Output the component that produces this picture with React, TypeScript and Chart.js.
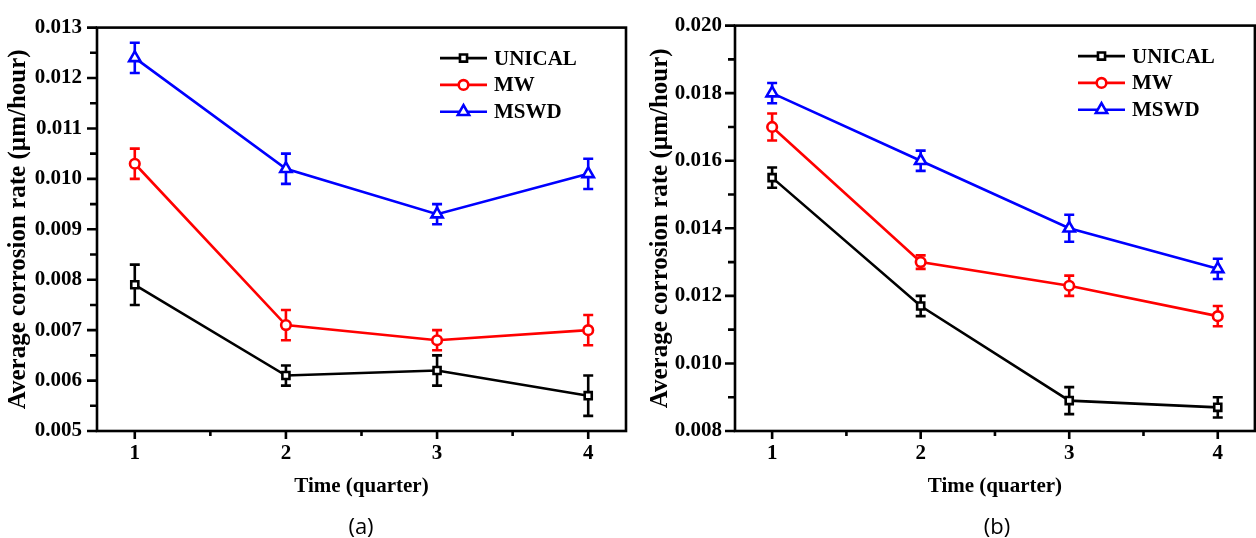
import React, { useEffect, useRef } from "react";
import { Chart, registerables } from "chart.js";

Chart.register(...registerables);

const SERIF = '"Liberation Serif", "Times New Roman", serif';

// ---------- data ----------
const quarters = [1, 2, 3, 4];
const xTickValues = [1, 2, 3, 4];
const seriesNames = ["UNICAL", "MW", "MSWD"];
const seriesColors = ["#000000", "#ff0000", "#0000ff"];
const seriesMarkers = ["rect", "circle", "triangle"];

// panel (a)
const aYTickValues = [0.005, 0.006, 0.007, 0.008, 0.009, 0.01, 0.011, 0.012, 0.013];
const aUnical = [0.0079, 0.0061, 0.0062, 0.0057];
const aUnicalErr = [0.0004, 0.0002, 0.0003, 0.0004];
const aMw = [0.0103, 0.0071, 0.0068, 0.007];
const aMwErr = [0.0003, 0.0003, 0.0002, 0.0003];
const aMswd = [0.0124, 0.0102, 0.0093, 0.0101];
const aMswdErr = [0.0003, 0.0003, 0.0002, 0.0003];

// panel (b)
const bYTickValues = [0.008, 0.01, 0.012, 0.014, 0.016, 0.018, 0.02];
const bUnical = [0.0155, 0.0117, 0.0089, 0.0087];
const bUnicalErr = [0.0003, 0.0003, 0.0004, 0.0003];
const bMw = [0.017, 0.013, 0.0123, 0.0114];
const bMwErr = [0.0004, 0.0002, 0.0003, 0.0003];
const bMswd = [0.018, 0.016, 0.014, 0.0128];
const bMswdErr = [0.0003, 0.0003, 0.0004, 0.0003];

const yTitle = "Average corrosion rate (\u00b5m/hour)";
const xTitle = "Time (quarter)";

type PanelProps = {
  canvasLeft: number;
  canvasWidth: number;
  axisWidth: number;
  tickPad: number;
  titlePad: number;
  padRight: number;
  yMin: number;
  yMax: number;
  yTicks: number[];
  values: number[][];
  errors: number[][];
  caption: string;
  captionCenter: number;
};

function markerSize(style: string) {
  if (style === "rect") return 5;
  if (style === "circle") return 4.8;
  return 6.5;
}

function drawMarker(ctx: CanvasRenderingContext2D, style: string, x: number, y: number, r: number, color: string) {
  ctx.save();
  ctx.beginPath();
  if (style === "rect") {
    const h = r * Math.SQRT1_2;
    ctx.rect(x - h, y - h, 2 * h, 2 * h);
  } else if (style === "circle") {
    ctx.arc(x, y, r, 0, Math.PI * 2);
  } else {
    ctx.moveTo(x, y - r);
    ctx.lineTo(x + 0.866 * r, y + 0.5 * r);
    ctx.lineTo(x - 0.866 * r, y + 0.5 * r);
    ctx.closePath();
  }
  ctx.fillStyle = "#ffffff";
  ctx.fill();
  ctx.lineWidth = 2.6;
  ctx.strokeStyle = color;
  ctx.stroke();
  ctx.restore();
}

function Panel(p: PanelProps) {
  const ref = useRef<HTMLCanvasElement | null>(null);

  useEffect(() => {
    if (!ref.current) return;

    const decor = {
      id: "decor",
      beforeDatasetsDraw(chart: any) {
        const ctx = chart.ctx as CanvasRenderingContext2D;
        const xs = chart.scales.x;
        const ys = chart.scales.y;
        ctx.save();
        ctx.lineWidth = 2.6;
        p.values.forEach((vals, si) => {
          ctx.strokeStyle = seriesColors[si];
          vals.forEach((v, i) => {
            const e = p.errors[si][i];
            const x = xs.getPixelForValue(quarters[i]);
            const y1 = ys.getPixelForValue(v + e);
            const y2 = ys.getPixelForValue(v - e);
            ctx.beginPath();
            ctx.moveTo(x, y1);
            ctx.lineTo(x, y2);
            ctx.moveTo(x - 5, y1);
            ctx.lineTo(x + 5, y1);
            ctx.moveTo(x - 5, y2);
            ctx.lineTo(x + 5, y2);
            ctx.stroke();
          });
        });
        ctx.restore();
      },
      afterDraw(chart: any) {
        const ctx = chart.ctx as CanvasRenderingContext2D;
        const { left, right, top, bottom } = chart.chartArea;
        const xs = chart.scales.x;
        const ys = chart.scales.y;
        ctx.save();
        ctx.strokeStyle = "#000";
        ctx.lineWidth = 2.6;
        ctx.strokeRect(left, top, right - left, bottom - top);
        // y ticks (major + minor)
        ctx.beginPath();
        p.yTicks.forEach((v, i) => {
          const y = ys.getPixelForValue(v);
          ctx.moveTo(left - 10, y);
          ctx.lineTo(left, y);
          if (i < p.yTicks.length - 1) {
            const ym = ys.getPixelForValue((v + p.yTicks[i + 1]) / 2);
            ctx.moveTo(left - 7, ym);
            ctx.lineTo(left, ym);
          }
        });
        xTickValues.forEach((v, i) => {
          const x = xs.getPixelForValue(v);
          ctx.moveTo(x, bottom);
          ctx.lineTo(x, bottom + 8);
          if (i < xTickValues.length - 1) {
            const xm = xs.getPixelForValue((v + xTickValues[i + 1]) / 2);
            ctx.moveTo(xm, bottom);
            ctx.lineTo(xm, bottom + 5);
          }
        });
        ctx.stroke();
        // legend
        ctx.font = `bold 21px ${SERIF}`;
        ctx.textAlign = "left";
        ctx.textBaseline = "middle";
        seriesNames.forEach((name, i) => {
          const y = top + 30.5 + i * 26.8;
          const x0 = left + 343;
          const x1 = left + 390;
          ctx.beginPath();
          ctx.strokeStyle = seriesColors[i];
          ctx.lineWidth = 2.6;
          ctx.moveTo(x0, y);
          ctx.lineTo(x1, y);
          ctx.stroke();
          drawMarker(ctx, seriesMarkers[i], (x0 + x1) / 2, y, markerSize(seriesMarkers[i]), seriesColors[i]);
          ctx.fillStyle = "#000";
          ctx.fillText(name, left + 397, y + 1);
        });
        ctx.restore();
      },
    };

    const chart = new Chart(ref.current, {
      type: "line",
      data: {
        datasets: p.values.map((vals, si) => ({
          label: seriesNames[si],
          data: vals.map((v, i) => ({ x: quarters[i], y: v })),
          borderColor: seriesColors[si],
          backgroundColor: "#ffffff",
          borderWidth: 2.6,
          pointStyle: seriesMarkers[si] as any,
          pointRadius: markerSize(seriesMarkers[si]),
          pointBorderWidth: 2.6,
          pointBackgroundColor: "#ffffff",
          pointBorderColor: seriesColors[si],
          tension: 0,
        })),
      },
      options: {
        responsive: false,
        animation: false,
        events: [],
        layout: { padding: { top: 23, right: p.padRight, left: 0, bottom: 0 } },
        plugins: { legend: { display: false }, tooltip: { enabled: false } },
        scales: {
          x: {
            type: "linear",
            min: 0.75,
            max: 4.25,
            afterBuildTicks: (s: any) => {
              s.ticks = xTickValues.map((v) => ({ value: v }));
            },
            afterFit: (s: any) => {
              s.height = 107;
            },
            grid: { display: false, drawTicks: false },
            border: { display: false },
            ticks: {
              padding: 10,
              color: "#000",
              font: { family: SERIF, size: 21, weight: "bold" },
              callback: (v: any) => String(v),
            },
            title: {
              display: true,
              text: xTitle,
              color: "#000",
              font: { family: SERIF, size: 21, weight: "bold" },
              padding: { top: 0, bottom: 39 },
            },
          },
          y: {
            type: "linear",
            min: p.yMin,
            max: p.yMax,
            afterBuildTicks: (s: any) => {
              s.ticks = p.yTicks.map((v) => ({ value: v }));
            },
            afterFit: (s: any) => {
              s.width = p.axisWidth;
            },
            grid: { display: false, drawTicks: false },
            border: { display: false },
            ticks: {
              padding: p.tickPad,
              color: "#000",
              font: { family: SERIF, size: 21, weight: "bold" },
              callback: (v: any) => Number(v).toFixed(3),
            },
            title: {
              display: true,
              text: yTitle,
              color: "#000",
              font: { family: SERIF, size: 25, weight: "bold" },
              padding: { top: p.titlePad, bottom: 0 },
            },
          },
        },
      },
      plugins: [decor],
    } as any);

    return () => chart.destroy();
  }, []);

  return (
    <>
      <canvas
        ref={ref}
        width={p.canvasWidth}
        height={538}
        style={{ position: "absolute", left: p.canvasLeft, top: 0, width: p.canvasWidth, height: 538 }}
      />
      <div
        style={{
          position: "absolute",
          left: p.captionCenter - 50,
          top: 510,
          width: 100,
          textAlign: "center",
          fontFamily: '"Open Sans", "Liberation Sans", sans-serif',
          fontSize: 22,
          lineHeight: "30px",
          color: "#000",
        }}
      >
        {p.caption}
      </div>
    </>
  );
}

export default function App() {
  return (
    <div
      style={{
        position: "fixed",
        left: 0,
        top: 0,
        width: 1256,
        height: 538,
        overflow: "hidden",
        background: "#ffffff",
      }}
    >
      <Panel
        canvasLeft={0}
        canvasWidth={640}
        axisWidth={97}
        tickPad={15}
        titlePad={4}
        padRight={14}
        yMin={0.005}
        yMax={0.013}
        yTicks={aYTickValues}
        values={[aUnical, aMw, aMswd]}
        errors={[aUnicalErr, aMwErr, aMswdErr]}
        caption="(a)"
        captionCenter={361}
      />
      <Panel
        canvasLeft={640}
        canvasWidth={624}
        axisWidth={95}
        tickPad={13}
        titlePad={6}
        padRight={0}
        yMin={0.008}
        yMax={0.02}
        yTicks={bYTickValues}
        values={[bUnical, bMw, bMswd]}
        errors={[bUnicalErr, bMwErr, bMswdErr]}
        caption="(b)"
        captionCenter={997}
      />
    </div>
  );
}
